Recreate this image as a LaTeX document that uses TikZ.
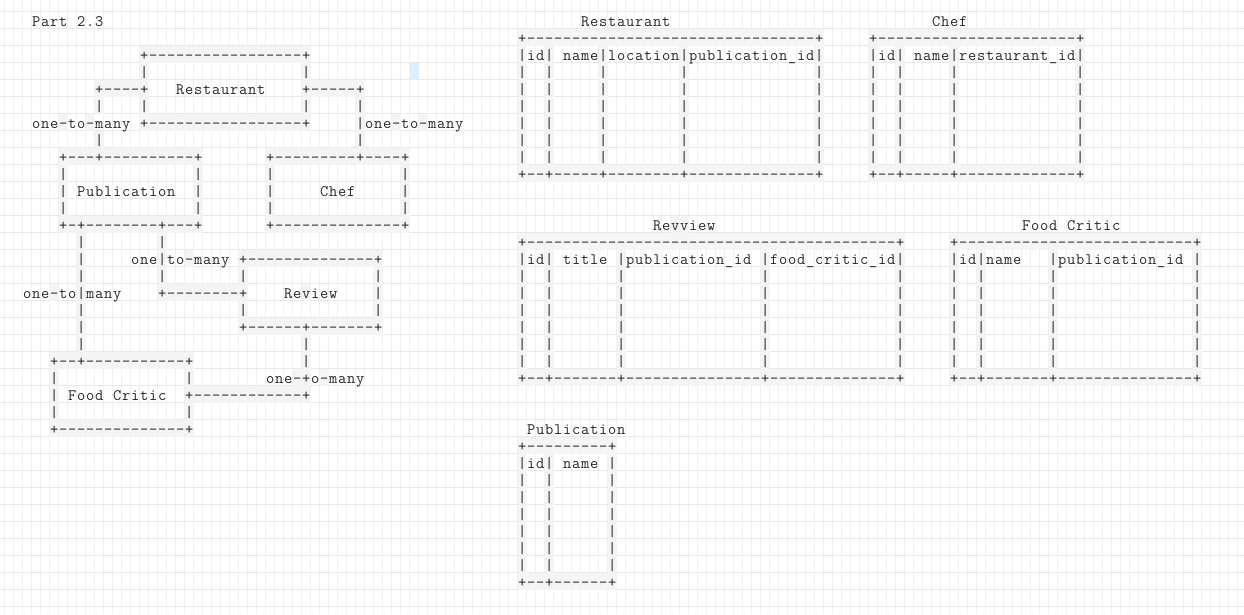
\documentclass[tikz,border=0pt]{standalone}
\definecolor{gridh}{RGB}{232,232,232}
\definecolor{gridv}{RGB}{241,241,241}
\definecolor{cellgray}{RGB}{244,244,244}
\definecolor{scratch}{RGB}{221,238,255}
\pgfdeclarelayer{gridl}\pgfdeclarelayer{cells}\pgfsetlayers{gridl,cells,main}
\newcount\acol
\newif\ifspecial
\newif\ifgraypass
\def\arow{0}
\def\ascstop{ascstop}
\newcommand\asc[3]{\acol=#1\relax\edef\arow{#2}\ascloop#3\ascstop}
\def\ascloop#1{\ifx#1\ascstop\let\ascnext\relax\else\ascchar#1\let\ascnext\ascloop\fi\ascnext}
\def\ascchar#1{%
 \ifx#1!\else
  \ifgraypass
   \specialfalse
   \ifx#1+\specialtrue\fi\ifx#1-\specialtrue\fi\ifx#1|\specialtrue\fi\ifx#1v\specialtrue\fi
   \ifspecial\fill[cellgray] ({4.55+9*\the\acol},{11.55+17*\arow}) rectangle ++(9.3,17.3);\fi
  \else
   \node[ch,name=c\arow-\the\acol] at ({9.2+9*\the\acol},{26.5+17*\arow}) {#1};%
  \fi
 \fi
 \advance\acol by 1\relax}
\tikzset{ch/.style={inner sep=0pt, anchor=base, font=\ttfamily\fontsize{16}{17}\selectfont, text=black!85}}
\newcommand\diagramtext{%
% ---------- left diagram ----------
\asc{3}{0}{Part!2.3}%
\asc{15}{2}{+-----------------+}%
\asc{15}{3}{|}\asc{33}{3}{|}%
\asc{10}{4}{+----+}\asc{19}{4}{Restaurant}\asc{33}{4}{+-----+}%
\asc{10}{5}{|}\asc{15}{5}{|}\asc{33}{5}{|}\asc{39}{5}{|}%
\asc{3}{6}{one-to-many!+-----------------+}\asc{39}{6}{|one-to-many}%
\asc{10}{7}{|}\asc{39}{7}{|}%
\asc{6}{8}{+---+----------+}\asc{29}{8}{+---------+----+}%
\asc{6}{9}{|}\asc{21}{9}{|}\asc{29}{9}{|}\asc{44}{9}{|}%
\asc{6}{10}{|!Publication!!|}\asc{29}{10}{|}\asc{35}{10}{Chef}\asc{44}{10}{|}%
\asc{6}{11}{|}\asc{21}{11}{|}\asc{29}{11}{|}\asc{44}{11}{|}%
\asc{6}{12}{+-+--------+---+}\asc{29}{12}{+--------------+}%
\asc{8}{13}{|}\asc{17}{13}{|}%
\asc{8}{14}{|}\asc{14}{14}{one|to-many!+--------------+}%
\asc{8}{15}{|}\asc{17}{15}{|}\asc{26}{15}{|}\asc{41}{15}{|}%
\asc{2}{16}{one-to|many}\asc{17}{16}{+--------+}\asc{31}{16}{Review}\asc{41}{16}{|}%
\asc{8}{17}{|}\asc{26}{17}{|}\asc{41}{17}{|}%
\asc{8}{18}{|}\asc{26}{18}{+------+-------+}%
\asc{8}{19}{|}\asc{33}{19}{|}%
\asc{5}{20}{+--+-----------+}\asc{33}{20}{|}%
\asc{5}{21}{|}\asc{20}{21}{|}\asc{29}{21}{one-+o-many}%
\asc{5}{22}{|!Food!Critic!!+------------+}%
\asc{5}{23}{|}\asc{20}{23}{|}%
\asc{5}{24}{+--------------+}%
% ---------- Restaurant table ----------
\asc{64}{0}{Restaurant}%
\asc{57}{1}{+--------------------------------+}%
\asc{57}{2}{|id|!name|location|publication\_id|}%
\foreach \r in {3,...,8}{\foreach \c in {57,60,66,75,90}{\asc{\c}{\r}{|}}}%
\asc{57}{9}{+--+-----+--------+--------------+}%
% ---------- Chef table ----------
\asc{103}{0}{Chef}%
\asc{96}{1}{+----------------------+}%
\asc{96}{2}{|id|!name|restaurant\_id|}%
\foreach \r in {3,...,8}{\foreach \c in {96,99,105,119}{\asc{\c}{\r}{|}}}%
\asc{96}{9}{+--+-----+-------------+}%
% ---------- Revview table ----------
\asc{72}{12}{Revview}%
\asc{57}{13}{+-----------------------------------------+}%
\asc{57}{14}{|id|!title!|publication\_id!|food\_critic\_id|}%
\foreach \r in {15,...,20}{\foreach \c in {57,60,68,84,99}{\asc{\c}{\r}{|}}}%
\asc{57}{21}{+--+-------+---------------+--------------+}%
% ---------- Food Critic table ----------
\asc{113}{12}{Food!Critic}%
\asc{105}{13}{+--------------------------+}%
\asc{105}{14}{|id|name!!!|publication\_id!|}%
\foreach \r in {15,...,20}{\foreach \c in {105,108,116,132}{\asc{\c}{\r}{|}}}%
\asc{105}{21}{+--+-------+---------------+}%
% ---------- Publication table ----------
\asc{58}{24}{Publication}%
\asc{57}{25}{+---------+}%
\asc{57}{26}{|id|!name!|}%
\foreach \r in {27,...,32}{\foreach \c in {57,60,67}{\asc{\c}{\r}{|}}}%
\asc{57}{33}{+--+------+}%
}
\begin{document}
\begin{tikzpicture}[x=1pt,y=-1pt]
\useasboundingbox (0,0) rectangle (1244,614);
\begin{pgfonlayer}{gridl}
\fill[white] (0,0) rectangle (1244,614);
\foreach \k in {0,...,137} \draw[gridv,line width=1.5pt] ({4.7+9*\k},0) -- ({4.7+9*\k},614);
\foreach \k in {0,...,35} \draw[gridh,line width=1pt] (0,{11.7+17*\k}) -- (1244,{11.7+17*\k});
\end{pgfonlayer}
\begin{pgfonlayer}{cells}
\fill[scratch] (409.7,62.7) rectangle ++(9,17);
\graypasstrue
\diagramtext
\end{pgfonlayer}
\graypassfalse
\diagramtext
\end{tikzpicture}
\end{document}
